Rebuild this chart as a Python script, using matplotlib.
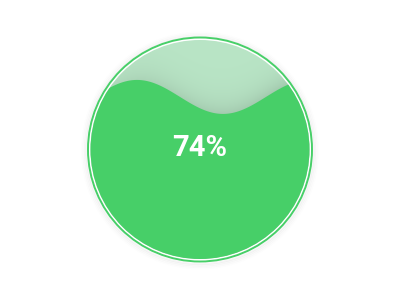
import numpy as np
import matplotlib.pyplot as plt
from matplotlib.patches import Circle

# gauge value
value = 0.74
label = '74%'

# wave shape (pixels)
wave_amp = 17.0
wave_len = 172.0
wave_crest_x = 137.0

front_color = '#47cf68'
back_color = (0.725, 0.898, 0.776)
ring_color = '#47cf68'

cx, cy = 200.0, 149.5
r_in = 109.5
r_out = 112.0

fig = plt.figure(figsize=(4, 3), dpi=100)
ax = fig.add_axes([0, 0, 1, 1])
ax.set_xlim(0, 400)
ax.set_ylim(300, 0)
ax.axis('off')

# faint outer shadow
for i, a in enumerate([0.035, 0.025, 0.015, 0.008]):
    ax.add_patch(Circle((cx, cy + 1), r_out + 1.5 + i * 1.5, fill=False,
                        lw=1.6, ec=(0, 0, 0, a)))

ax.add_patch(Circle((cx, cy), r_out, fill=False, lw=1.4, ec=ring_color))

# level of the wave, measured from the bottom of the inner circle
mean_y = cy + r_in - value * 2 * r_in

def front_y(x):
    return mean_y - wave_amp * np.cos(2 * np.pi * (x - wave_crest_x) / wave_len)

# background (back wave) with shadow above the front wave
xs = np.arange(0, 400) + 0.5
ys = np.arange(0, 300) + 0.5
X, Y = np.meshgrid(xs, ys)
d = front_y(X) - Y
img = np.ones((300, 400, 4))
img[..., :3] = back_color
shade = 0.30 * np.exp(-np.clip(d, 0, None) / 14.0)
# a bit lighter to the upper left
shade *= 0.55 + 0.45 * np.clip((X - 120) / 100, 0, 1)
gray = np.array([0.45, 0.55, 0.48])
img[..., :3] = img[..., :3] * (1 - shade[..., None]) + gray * shade[..., None]
im = ax.imshow(img, extent=(0, 400, 300, 0), interpolation='bilinear', zorder=1)
clip = Circle((cx, cy), r_in, transform=ax.transData)
im.set_clip_path(clip)

# front wave
wx = np.linspace(cx - r_in - 2, cx + r_in + 2, 400)
wy = front_y(wx)
poly_x = np.concatenate([wx, [wx[-1], wx[0]]])
poly_y = np.concatenate([wy, [cy + r_in + 5, cy + r_in + 5]])
wave = ax.fill(poly_x, poly_y, color=front_color, lw=0, zorder=2)[0]
wave.set_clip_path(Circle((cx, cy), r_in, transform=ax.transData))

ax.text(cx, 148, label, color='white', fontsize=21, fontweight='bold',
        family='Roboto', ha='center', va='center', zorder=3)

fig.savefig('out.png', dpi=100)
